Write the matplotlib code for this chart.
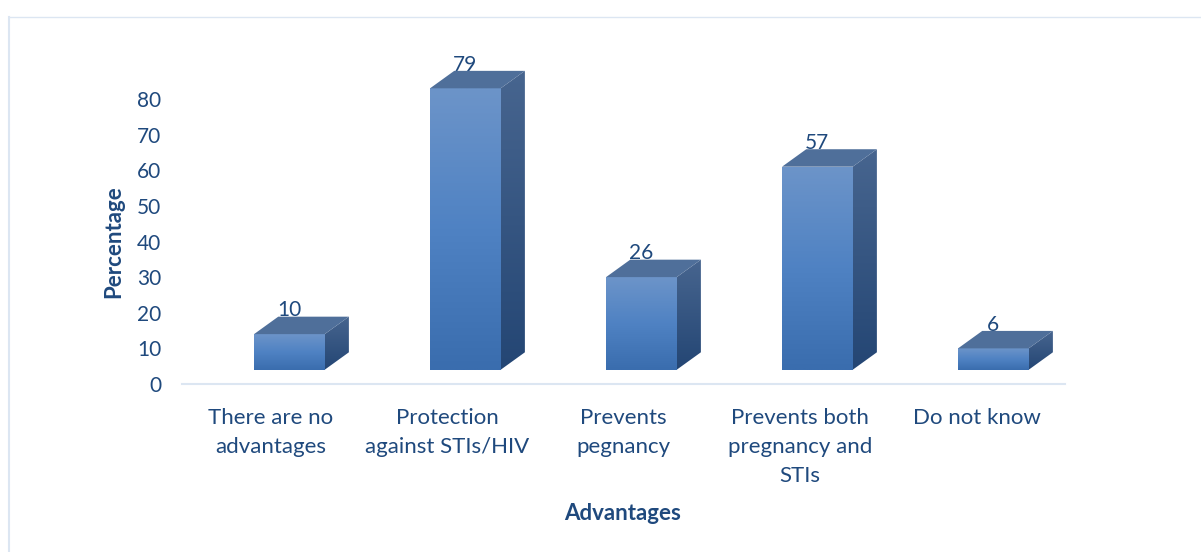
import matplotlib
matplotlib.use("Agg")
import matplotlib.pyplot as plt
import numpy as np
from matplotlib.lines import Line2D
from matplotlib.patches import Polygon

categories = [
    "There are no\nadvantages",
    "Protection\nagainst STIs/HIV",
    "Prevents\npegnancy",
    "Prevents both\npregnancy and\nSTIs",
    "Do not know",
]
values = [10, 79, 26, 57, 6]
y_ticks = [0, 10, 20, 30, 40, 50, 60, 70, 80]

W, H = 1201, 552
TEXT = "#1f497d"
FRAME = "#dce6f2"

# 3D look of the bars, in data units
SHIFT = 0.108
STEP = 0.9966
BASE = 4.0
HALF = 0.2
DX = 0.137
DY = 4.9
Y_MAX = 90

plt.rcParams["font.family"] = ["Lato", "DejaVu Sans"]


def shade(ax, corners, colors):
    """Fill a polygon with a vertical gradient through the given colours."""
    stops = np.array([matplotlib.colors.to_rgb(c) for c in colors])
    pos = np.linspace(0, 1, len(colors))
    t = np.linspace(0, 1, 64)
    img = np.stack([np.interp(t, pos, stops[:, k]) for k in range(3)], axis=1)[:, None, :]
    xs, ys = zip(*corners)
    patch = Polygon(corners, closed=True, facecolor="none", edgecolor="none",
                    transform=ax.transData)
    ax.add_patch(patch)
    im = ax.imshow(img, extent=(min(xs), max(xs), min(ys), max(ys)), aspect="auto",
                   origin="upper", zorder=3, interpolation="bilinear")
    im.set_clip_path(patch)


fig = plt.figure(figsize=(W / 100, H / 100), dpi=100)
height = 285 * Y_MAX / 80
ax = fig.add_axes([182 / W, 1 - 384 / H, 883 / W, height / H])

for i, v in enumerate(values):
    c = i * STEP + SHIFT
    l, r = c - HALF, c + HALF
    b, t = BASE, BASE + v
    shade(ax, [(l, b), (r, b), (r, t), (l, t)], ["#6c94c9", "#4f82c3", "#3a6dae"])
    shade(ax, [(r, b), (r + DX, b + DY), (r + DX, t + DY), (r, t)], ["#47658f", "#244674"])
    ax.add_patch(Polygon([(l, t), (r, t), (r + DX, t + DY), (l + DX, t + DY)],
                         closed=True, facecolor="#4f6f9a", edgecolor="none", zorder=3))
    ax.annotate(str(v), (c, t + DY), xytext=(0, 4.5), textcoords="offset points",
                ha="center", va="center", color=TEXT, fontsize=15, zorder=2,
                annotation_clip=False)

ax.set_xlim(-0.5, 4.5)
ax.set_ylim(0, Y_MAX)
ax.set_yticks(y_ticks)
ax.set_xticks(range(len(categories)))
ax.set_xticklabels(categories, linespacing=1.55, fontsize=16)
ax.tick_params(axis="both", length=0, labelcolor=TEXT)
ax.tick_params(axis="y", pad=15, labelsize=15)
ax.tick_params(axis="x", pad=17.5)
for side in ("top", "right", "left"):
    ax.spines[side].set_visible(False)
ax.spines["bottom"].set_color(FRAME)
ax.spines["bottom"].set_linewidth(1.5)
ax.patch.set_visible(False)

fig.text(623 / W, 1 - 513 / H, "Advantages", ha="center", va="center",
         color=TEXT, fontsize=16, fontweight="bold")
fig.text(114 / W, 1 - 242 / H, "Percentage", ha="center", va="center", rotation=90,
         color=TEXT, fontsize=16, fontweight="bold")

# chart frame, only its top and left edges are in the picture
fig.add_artist(Line2D([9 / W, 9 / W], [0, 1 - 17 / H], color=FRAME, lw=1.5))
fig.add_artist(Line2D([9 / W, 1], [1 - 17 / H, 1 - 17 / H], color=FRAME, lw=1))

fig.savefig("out.png", dpi=100)
